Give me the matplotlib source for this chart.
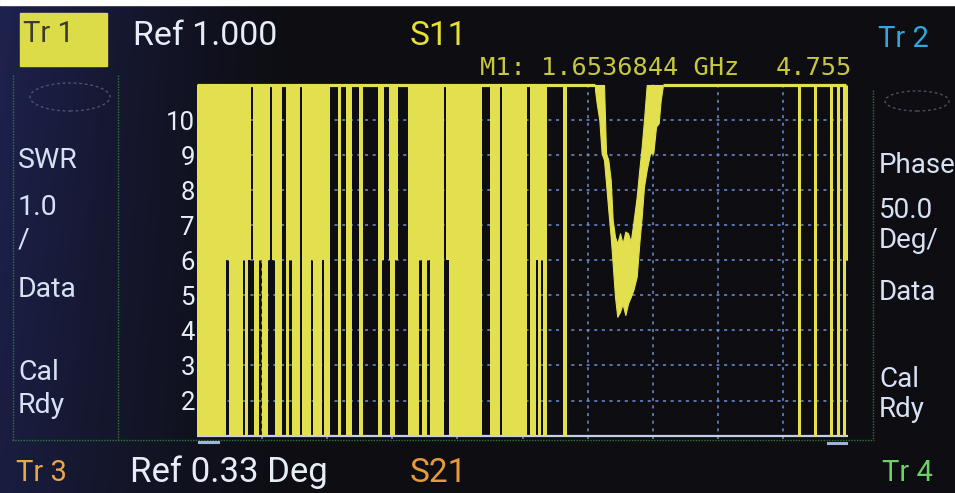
import numpy as np
import matplotlib
matplotlib.use("Agg")
import matplotlib.pyplot as plt
from matplotlib.patches import Rectangle, Ellipse
from matplotlib.lines import Line2D

W, H = 955, 493

# ---------------- sweep data (frequency in GHz, SWR) ----------------
f_start, f_stop = 1.0, 2.0
swr_bottom, swr_top = 1.0, 11.0
swr_ticks = [2, 3, 4, 5, 6, 7, 8, 9, 10]

# unstable part of the sweep: the trace toggles between the top of the
# screen and a floor value; gaps are where it stays up (level 11) or
# only drops to 6
noisy_end = 1.5684
gap_lo = [1.0450, 1.0702, 1.0788, 1.0829, 1.0856, 1.0952, 1.1086, 1.1121,
          1.1157, 1.1301, 1.1418, 1.1582, 1.1751, 1.1915, 1.2043, 1.2207,
          1.2376, 1.2555, 1.2837, 1.2877, 1.2954, 1.3041, 1.3083, 1.3410,
          1.3538, 1.3794, 1.3825, 1.4382, 1.4654, 1.5074, 1.5203, 1.5280,
          1.5372]
gap_hi = [1.0492, 1.0737, 1.0829, 1.0856, 1.0880, 1.0994, 1.1121, 1.1157,
          1.1198, 1.1367, 1.1455, 1.1618, 1.1787, 1.1951, 1.2171, 1.2284,
          1.2493, 1.2785, 1.2877, 1.2954, 1.2965, 1.3083, 1.3246, 1.3452,
          1.3579, 1.3825, 1.3871, 1.4501, 1.4690, 1.5111, 1.5243, 1.5320,
          1.5627]
gap_level = [6, 6, 6, 11, 6, 6, 6, 11,
             6, 11, 6, 11, 6, 6, 11, 11,
             11, 11, 6, 11, 6, 6, 11, 6,
             6, 11, 6, 11, 11, 11, 6, 6,
             11]

# resonance dip: upper and lower envelope of the noisy trace
dip_freq = [1.6114, 1.6140, 1.6180, 1.6216, 1.6252, 1.6283, 1.6318, 1.6355,
            1.6385, 1.6421, 1.6456, 1.6498, 1.6537, 1.6580, 1.6621, 1.6662,
            1.6702, 1.6754, 1.6794, 1.6831, 1.6866, 1.6908, 1.6959, 1.7009,
            1.7051, 1.7092, 1.7123, 1.7154]
dip_hi = [11.0, 11.0, 11.0, 11.0, 11.0, 9.06, 8.86, 8.29,
          7.15, 6.67, 6.48, 6.77, 6.48, 6.82, 6.77, 6.53,
          7.06, 7.81, 8.58, 9.24, 10.0, 11.0, 11.0, 11.0,
          11.0, 11.0, 11.0, 11.0]
dip_lo = [10.86, 10.48, 10.0, 9.05, 8.86, 8.20, 7.43, 6.67,
          5.91, 4.96, 4.39, 4.53, 4.755, 4.44, 4.77, 4.95,
          5.15, 5.53, 6.48, 7.24, 8.10, 8.58, 9.05, 9.05,
          9.81, 9.91, 10.57, 10.95]

# isolated single-point drops from the top
spike_freq = [1.5660, 1.9252, 1.9493, 1.9739, 1.9846, 1.9939, 1.9969]
spike_floor = [1, 1, 1, 1, 1, 1, 6]
trace_end = 1.9965

marker_freq = 1.6536844
marker_swr = 4.755

# ---------------- colours ----------------
YEL = "#e2e04e"
GRID = "#6f8fd0"
WHITE = "#e6edf7"
BLUEWHITE = "#d6e2f4"

fig = plt.figure(figsize=(W / 100, H / 100), dpi=100)

# photographed screen background: navy on the left fading to black
bg = fig.add_axes([0, 0, 1, 1])
xx = np.linspace(0, 1, 400)[None, :]
yy = np.linspace(0, 1, 200)[:, None]
w = np.clip(1 - xx / 0.32, 0, 1) ** 1.3 * (0.75 + 0.25 * yy)
navy = np.array([30, 34, 78]) / 255
dark = np.array([13, 13, 18]) / 255
img = dark[None, None, :] + (navy - dark)[None, None, :] * w[..., None]
bg.imshow(img, aspect="auto", extent=[0, 1, 0, 1], origin="lower")
bg.set_xlim(0, 1)
bg.set_ylim(0, 1)
bg.axis("off")


def fx(px):
    return px / W


def fy(py):
    return 1 - py / H


# white strip along the top edge of the photo
fig.patches.append(Rectangle((0, fy(5)), 1, 5 / H, transform=fig.transFigure,
                             color="white", zorder=2))

# green frame of the display panels
frame_kw = dict(transform=fig.transFigure, color="#2f7a3a", lw=1.0,
                ls=(0, (1, 1)), zorder=2)
fig.lines.append(Line2D([fx(12), fx(874)], [fy(440), fy(440)], **frame_kw))
fig.lines.append(Line2D([fx(13), fx(13)], [fy(75), fy(440)], **frame_kw))
fig.lines.append(Line2D([fx(118), fx(118)], [fy(75), fy(440)], **frame_kw))
fig.lines.append(Line2D([fx(873), fx(873)], [fy(90), fy(440)], **frame_kw))

# faint trace-format icons
fig.patches.append(Ellipse((fx(70), fy(97)), 80 / W, 28 / H,
                           transform=fig.transFigure, fill=False,
                           ec="#4a5470", lw=1.0, ls=(0, (2, 2)), zorder=2))
fig.patches.append(Ellipse((fx(917), fy(101)), 64 / W, 20 / H,
                           transform=fig.transFigure, fill=False,
                           ec="#4a5060", lw=1.0, ls=(0, (2, 2)), zorder=2))

# ---------------- trace axes ----------------
ax = fig.add_axes([fx(197), fy(439.1), 651 / W, (439.1 - 81.5) / H])
ax.set_facecolor("none")
ax.set_xlim(f_start, f_stop)
ax.set_ylim(swr_bottom - 0.1, swr_top + 0.1)
for s in ax.spines.values():
    s.set_visible(False)

xgrid = np.linspace(f_start, f_stop, 11)[1:-1]
ax.set_xticks(xgrid)
ax.set_xticklabels([])
ax.set_yticks(swr_ticks)
ax.set_yticklabels([str(t) for t in swr_ticks], family="Roboto",
                   fontsize=18.5, color=WHITE)
ax.tick_params(length=0, pad=1.5)
ax.grid(True, color=GRID, lw=1.1, ls=(0, (2, 3)))
ax.set_axisbelow(True)

# reference line at SWR 1
ax.hlines(swr_bottom, f_start, f_stop, color="#c4d0ea", lw=1.6, zorder=1.5)

# noisy section as a stepped band between the floor value and the top
edges = [f_start]
floors = [swr_bottom]
for lo, hi, lvl in zip(gap_lo, gap_hi, gap_level):
    edges += [lo, hi]
    floors += [lvl, swr_bottom]
edges.append(noisy_end)
floors.append(swr_bottom)
ax.fill_between(edges, floors, swr_top, step="post", color=YEL, lw=0,
                zorder=3)

# trace sitting on the top line
ax.hlines(swr_top, f_start, dip_freq[0], color=YEL, lw=2.3, zorder=3)
ax.hlines(swr_top, dip_freq[-1], trace_end, color=YEL, lw=2.3, zorder=3)

# resonance dip
ax.fill_between(dip_freq, dip_lo, dip_hi, color=YEL, lw=0.8, ec=YEL,
                zorder=3)

# single-point drops
ax.vlines(spike_freq, spike_floor, swr_top, color=YEL, lw=2.2, zorder=3)

# start / stop markers under the graticule
mk_kw = dict(transform=fig.transFigure, color="#9fb4dc", lw=2.2, zorder=4)
fig.lines.append(Line2D([fx(199), fx(218)], [fy(442), fy(442)], **mk_kw))
fig.lines.append(Line2D([fx(828), fx(846)], [fy(443), fy(443)], **mk_kw))

# ---------------- screen annotations ----------------
RB = "Roboto"
fig.patches.append(Rectangle((fx(20), fy(66)), 87 / W, 53 / H,
                             transform=fig.transFigure, color="#dcdc48",
                             zorder=3))
fig.text(fx(23), fy(42), "Tr 1", family=RB, fontsize=21, color="#3c3c2c",
         zorder=5)
fig.text(fx(133), fy(45), "Ref 1.000", family=RB, fontsize=24.5,
         color=WHITE, zorder=5)
fig.text(fx(410), fy(45), "S11", family=RB, fontsize=24, color="#e6e034",
         zorder=5)
fig.text(fx(480), fy(75), f"M1: {marker_freq:.7f} GHz",
         family="DejaVu Sans Mono", fontsize=18.3, color="#c8c83e", zorder=5)
fig.text(fx(852), fy(75), f"{marker_swr:.3f}", family="DejaVu Sans Mono",
         fontsize=18.3, color="#c8c83e", ha="right", zorder=5)
fig.text(fx(878), fy(47), "Tr 2", family=RB, fontsize=21, color="#2fa8dc",
         zorder=5)

left_labels = [("SWR", 168), ("1.0", 215), ("/", 247), ("Data", 297),
               ("Cal", 380), ("Rdy", 413)]
for s, yb in left_labels:
    fig.text(fx(18), fy(yb), s, family=RB, fontsize=20.5, color=BLUEWHITE,
             zorder=5)

right_labels = [("Phase", 173), ("50.0", 218), ("Deg/", 248), ("Data", 300),
                ("Cal", 387), ("Rdy", 417)]
for s, yb in right_labels:
    fig.text(fx(879), fy(yb), s, family=RB, fontsize=20, color=BLUEWHITE,
             zorder=5)

fig.text(fx(16), fy(481), "Tr 3", family=RB, fontsize=21, color="#e8a848",
         zorder=5)
fig.text(fx(130), fy(482), "Ref 0.33 Deg", family=RB, fontsize=25,
         color=WHITE, zorder=5)
fig.text(fx(410), fy(482), "S21", family=RB, fontsize=24, color="#e8993a",
         zorder=5)
fig.text(fx(882), fy(481), "Tr 4", family=RB, fontsize=21, color="#6cd266",
         zorder=5)

fig.savefig("out.png", dpi=100)
